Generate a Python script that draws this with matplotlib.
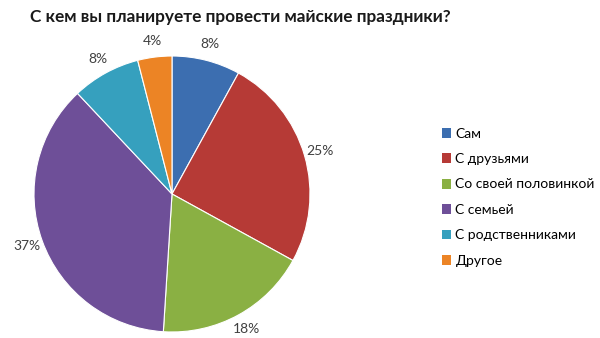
import matplotlib
matplotlib.use('Agg')
import matplotlib.pyplot as plt
from matplotlib.patches import Patch

plt.rcParams['font.family'] = ['Lato', 'DejaVu Sans']

# данные
categories = ['Сам', 'С друзьями', 'Со своей половинкой', 'С семьей', 'С родственниками', 'Другое']
shares = [8, 25, 18, 37, 8, 4]
colors = ['#3C6EB0', '#B63A36', '#8AB043', '#6E4F98', '#36A0BE', '#EC8425']

W, H = 600, 338
fig = plt.figure(figsize=(W / 100, H / 100), dpi=100)

# пирог: центр (172, 194), радиус 138 px
cx, cy, r = 172, 194, 138
ax = fig.add_axes([(cx - r) / W, (H - cy - r) / H, 2 * r / W, 2 * r / H])
wedges, texts, autotexts = ax.pie(
    shares, colors=colors, startangle=90, counterclock=False,
    autopct='%d%%', pctdistance=1.12, radius=1,
    wedgeprops=dict(linewidth=0.8, edgecolor='white'),
    textprops=dict(fontsize=10, color='#404040'))
for t in autotexts:
    t.set_clip_on(False)
ax.set_xlim(-1, 1)
ax.set_ylim(-1, 1)
ax.set_aspect('equal')
ax.axis('off')

fig.text(30 / W, 1 - 17 / H, 'С кем вы планируете провести майские праздники?',
         fontsize=12.4, fontweight='bold', color='#1a1a1a', va='center', ha='left')

handles = [Patch(facecolor=c, edgecolor='none') for c in colors]
fig.legend(handles, categories, loc='upper left', bbox_to_anchor=(436 / W, 1 - 122 / H),
           frameon=False, fontsize=10, handlelength=0.7, handleheight=0.7,
           handletextpad=0.3, labelspacing=0.97, borderaxespad=0)

fig.savefig('out.png', dpi=100, facecolor='white')
